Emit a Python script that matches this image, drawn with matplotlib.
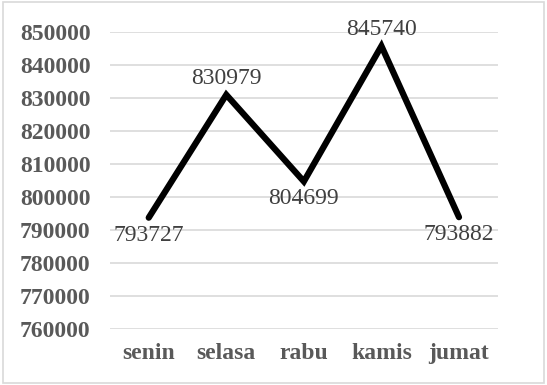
import matplotlib.pyplot as plt
from matplotlib.patches import Rectangle

days = ["senin", "selasa", "rabu", "kamis", "jumat"]
values = [793727, 830979, 804699, 845740, 793882]
# where each value label sits relative to its point
label_side = ["below", "above", "below", "above", "below"]

y_ticks = list(range(760000, 850001, 10000))

plt.rcParams["font.family"] = ["Liberation Serif", "DejaVu Serif"]

fig = plt.figure(figsize=(5.47, 3.85), dpi=100)
ax = fig.add_axes([0.201, 0.1455, 0.709, 0.7714])

x = list(range(len(days)))
ax.plot(x, values, color="black", lw=4.5, solid_capstyle="round",
        solid_joinstyle="miter", zorder=3)

for xi, v, side in zip(x, values, label_side):
    dy = 4 if side == "above" else -5
    va = "bottom" if side == "above" else "top"
    ax.annotate(str(v), (xi, v), xytext=(0, dy), textcoords="offset points",
                ha="center", va=va, fontsize=17, color="#404040", zorder=4)

ax.set_xlim(-0.5, len(days) - 0.5)
ax.set_ylim(760000, 850000)
ax.set_yticks(y_ticks)
ax.set_yticklabels([str(t) for t in y_ticks])
ax.set_xticks(x)
ax.set_xticklabels(days)

ax.grid(axis="y", color="#d9d9d9", lw=1.2)
ax.set_axisbelow(True)
for s in ax.spines.values():
    s.set_visible(False)
ax.tick_params(length=0, labelsize=17, labelcolor="#595959")
ax.tick_params(axis="y", pad=14)
ax.tick_params(axis="x", pad=10)
for lab in ax.get_xticklabels() + ax.get_yticklabels():
    lab.set_fontweight("bold")

# thin frame round the whole chart
fig.patches.append(Rectangle((0.006, 0.004), 0.988, 0.99, transform=fig.transFigure,
                             fill=False, edgecolor="#d9d9d9", lw=1.2))

fig.savefig("out.png", dpi=100)
